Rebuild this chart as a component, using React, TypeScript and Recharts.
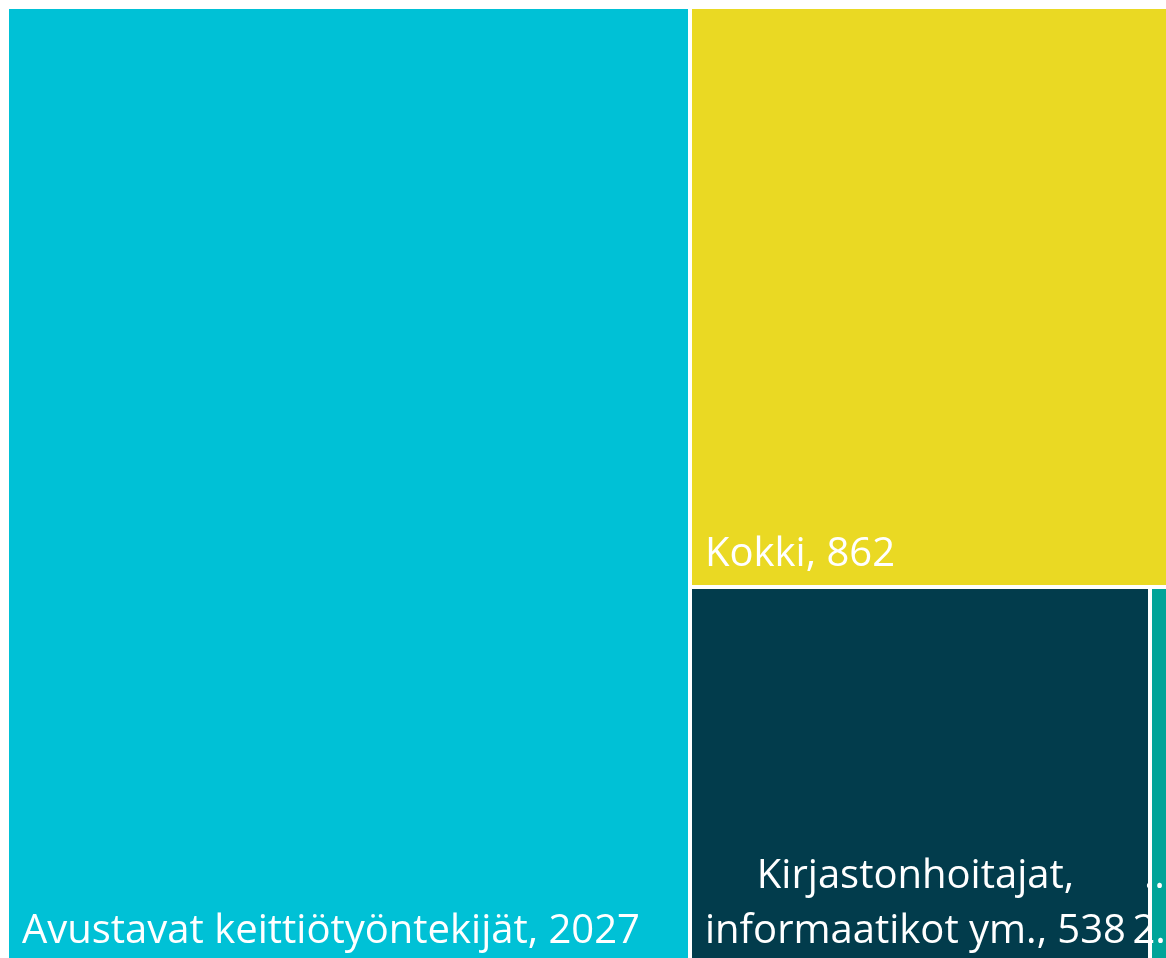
import React from 'react';
import { Treemap } from 'recharts';

const categories = [
  'Avustavat keittiötyöntekijät',
  'Kokki',
  'Kirjastonhoitajat, informaatikot ym.',
  'Muut',
];
const values = [2027, 862, 538, 23];
const colors = ['#00C1D6', '#EAD923', '#023C4C', '#00A499'];

const data = categories.map((name, i) => ({ name, size: values[i] }));

const FONT_SIZE = 40;
const FONT_FAMILY = '"Open Sans", "Noto Sans", sans-serif';
const LINE_H = 55;
const PAD = 13;
const INSET = 2;

let ctx: CanvasRenderingContext2D | null = null;
function measure(t: string): number {
  if (!ctx) {
    const c = document.createElement('canvas');
    ctx = c.getContext('2d');
  }
  if (!ctx) return t.length * FONT_SIZE * 0.55;
  ctx.font = `${FONT_SIZE}px "Open Sans"`;
  return ctx.measureText(t).width;
}

function wrap(label: string, avail: number): string[] {
  const words = label.split(' ');
  const lines: string[] = [];
  let cur = '';
  for (const w of words) {
    const test = cur ? cur + ' ' + w : w;
    if (cur && measure(test) > avail) {
      lines.push(cur);
      cur = w;
    } else {
      cur = test;
    }
  }
  if (cur) lines.push(cur);
  return lines;
}

const Cell = (props: any) => {
  const { x, y, width, height, depth, index, name, value } = props;
  if (depth !== 1) return null;
  const rx = x + INSET;
  const ry = y + INSET;
  const rw = Math.max(0, width - INSET * 2);
  const rh = Math.max(0, height - INSET * 2);
  const label = `${name}, ${value}`;
  let lines: string[];
  let cx: number;
  if (rw < 40) {
    lines = ['…', `${String(value)[0]}…`];
    cx = rx + rw / 2;
  } else {
    lines = wrap(label, rw - PAD * 2);
    const maxW = Math.max(...lines.map(measure));
    cx = rx + PAD + maxW / 2;
  }
  const lastBase = ry + rh - 19;
  return (
    <g>
      <rect x={rx} y={ry} width={rw} height={rh} fill={colors[index % colors.length]} stroke="none" />
      {lines.map((l, i) => (
        <text
          key={i}
          x={cx}
          y={lastBase - (lines.length - 1 - i) * LINE_H}
          textAnchor="middle"
          fill="#FFFFFF"
          stroke="none"
          fontFamily={FONT_FAMILY}
          fontSize={FONT_SIZE}
        >
          {l}
        </text>
      ))}
    </g>
  );
};

export default function App() {
  return (
    <div style={{ position: 'fixed', left: 7, top: 7, width: 1162, height: 957 }}>
      <Treemap
        width={1162}
        height={957}
        data={data}
        dataKey="size"
        nameKey="name"
        aspectRatio={1}
        stroke="#fff"
        fill="#fff"
        isAnimationActive={false}
        content={<Cell />}
      />
    </div>
  );
}
